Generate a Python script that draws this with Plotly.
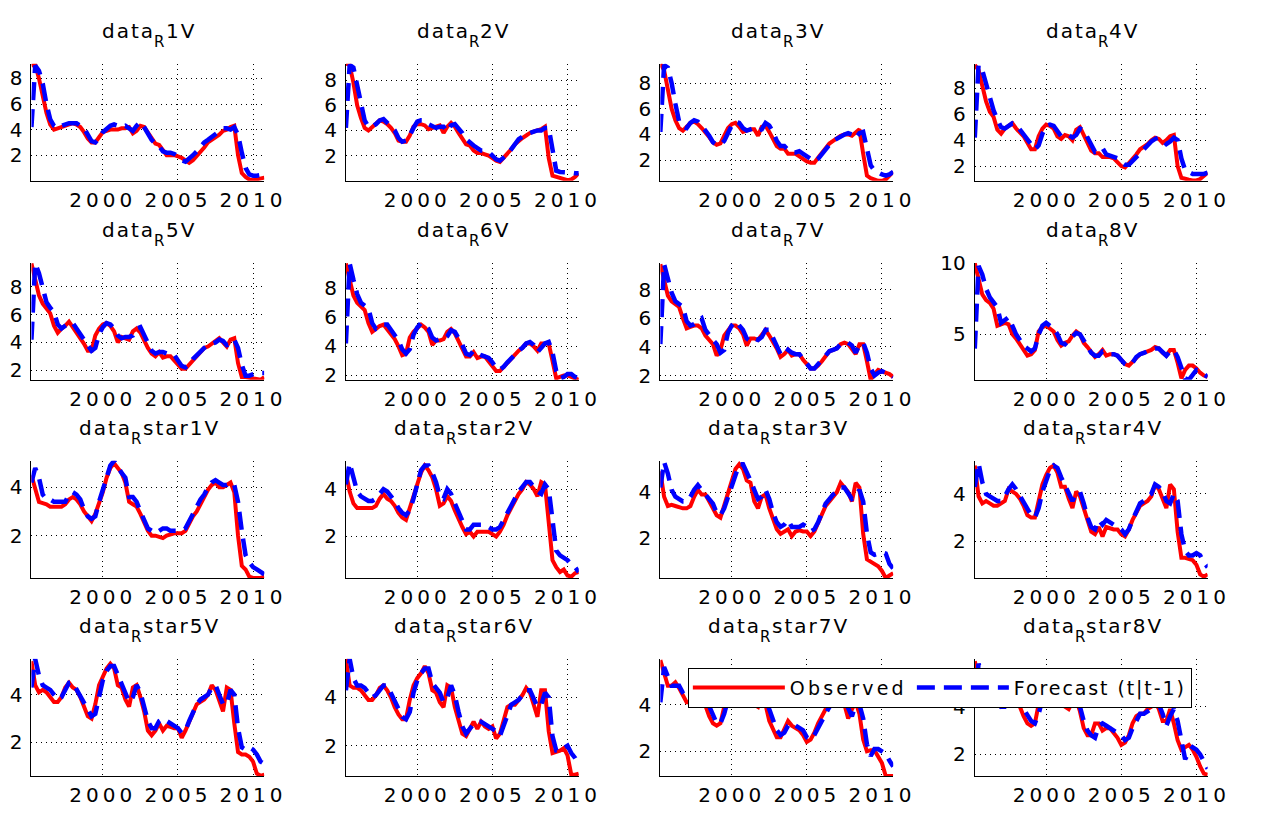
import plotly.graph_objects as go

# quarterly sample 1995Q2 .. 2010Q4 (decimal years)
quarters = [1995.25 + 0.25 * i for i in range(63)]
year_ticks = [2000, 2005, 2010]

titles = ["1V", "2V", "3V", "4V", "5V", "6V", "7V", "8V",
          "star1V", "star2V", "star3V", "star4V", "star5V", "star6V", "star7V", "star8V"]

obs_R1 = [9.0, 9.1, 8.0, 6.6, 5.3, 4.4, 4.0, 4.1, 4.2, 4.3,
          4.4, 4.5, 4.4, 4.2, 3.8, 3.3, 3.0, 3.0, 3.4, 3.8,
          3.9, 4.0, 4.0, 4.0, 4.1, 4.1, 4.2, 3.7, 3.9, 4.3,
          4.2, 3.8, 3.3, 2.9, 2.8, 2.4, 2.0, 2.0, 2.0, 1.9,
          1.8, 1.6, 1.4, 1.6, 1.9, 2.2, 2.6, 3.0, 3.2, 3.4,
          3.6, 3.9, 4.0, 4.2, 4.3, 2.0, 0.6, 0.3, 0.1, 0.05,
          0.1, 0.15, 0.25]
fc_R1 = [4.2, 9.0, 8.6, 7.6, 6.0, 4.8, 4.3, 4.1, 4.3, 4.4,
         4.5, 4.5, 4.5, 4.3, 4.1, 3.6, 3.1, 3.0, 3.3, 3.8,
         4.1, 4.3, 4.4, 4.3, 4.2, 4.3, 4.1, 3.9, 4.3, 4.6,
         4.2, 3.7, 3.2, 2.9, 2.7, 2.3, 2.2, 2.2, 2.1, 1.9,
         1.6, 1.5, 1.7, 2.0, 2.3, 2.7, 3.0, 3.2, 3.4, 3.6,
         3.8, 4.1, 4.1, 4.0, 4.2, 3.6, 2.2, 1.0, 0.5, 0.4,
         0.4, 0.45, 0.5]

obs_R2 = [9.3, 9.2, 7.8, 6.0, 5.0, 4.2, 4.0, 4.3, 4.5, 4.8,
          4.7, 4.5, 4.2, 3.8, 3.2, 3.1, 3.1, 3.6, 4.3, 4.5,
          4.5, 4.4, 4.1, 4.2, 4.3, 4.4, 3.8, 4.3, 4.6, 4.3,
          3.8, 3.3, 2.9, 2.8, 2.4, 2.2, 2.2, 2.1, 2.0, 1.8,
          1.6, 1.5, 1.8, 2.1, 2.5, 2.9, 3.2, 3.4, 3.6, 3.8,
          3.9, 4.0, 4.1, 4.3, 1.8, 0.4, 0.3, 0.2, 0.1, 0.05,
          0.1, 0.3, 0.6]
fc_R2 = [4.2, 9.2, 9.0, 7.6, 5.9, 4.8, 4.3, 4.3, 4.5, 4.8,
         4.9, 4.6, 4.3, 4.0, 3.4, 3.1, 3.2, 3.6, 4.2, 4.7,
         4.8, 4.8, 4.5, 4.3, 4.2, 4.3, 4.3, 3.9, 4.4, 4.5,
         4.2, 3.8, 3.3, 3.0, 2.8, 2.6, 2.4, 2.4, 2.3, 2.0,
         1.7, 1.6, 1.8, 2.1, 2.5, 2.9, 3.3, 3.5, 3.7, 3.8,
         3.9, 4.0, 4.0, 4.2, 4.2, 2.2, 0.8, 0.7, 0.7, 0.7,
         0.65, 0.6, 0.6]

obs_R3 = [9.5, 9.0, 7.5, 6.0, 5.1, 4.5, 4.3, 4.6, 4.9, 5.0,
          4.8, 4.5, 4.2, 3.8, 3.4, 3.2, 3.3, 3.9, 4.5, 4.8,
          4.9, 4.6, 4.2, 4.3, 4.4, 4.4, 3.9, 4.6, 4.7, 4.2,
          3.6, 3.1, 2.9, 2.9, 2.5, 2.5, 2.5, 2.3, 2.1, 1.9,
          1.8, 1.8, 2.2, 2.6, 3.0, 3.3, 3.5, 3.7, 3.9, 4.0,
          4.0, 3.9, 4.2, 4.4, 2.5, 0.8, 0.6, 0.5, 0.4, 0.4,
          0.5, 0.8, 1.1]
fc_R3 = [4.2, 9.4, 9.2, 8.0, 6.4, 5.0, 4.6, 4.5, 4.9, 5.1,
         5.0, 4.7, 4.3, 3.9, 3.4, 3.2, 3.2, 3.5, 4.2, 4.7,
         5.0, 4.9, 4.5, 4.3, 4.4, 4.5, 4.3, 4.4, 4.9, 4.7,
         4.2, 3.5, 3.1, 3.1, 2.8, 2.6, 2.6, 2.7, 2.5, 2.3,
         2.0, 1.9, 2.1, 2.5, 2.9, 3.2, 3.5, 3.7, 3.9, 4.0,
         4.1, 4.0, 3.7, 4.1, 4.2, 3.0, 1.6, 1.2, 1.0, 0.9,
         0.8, 0.9, 1.1]

obs_R4 = [9.8, 9.4, 8.2, 7.0, 6.2, 5.8, 4.8, 4.5, 4.9, 5.1,
          5.3, 4.9, 4.6, 4.3, 3.8, 3.3, 3.3, 4.3, 4.9, 5.2,
          5.1, 4.9, 4.3, 4.1, 4.4, 4.3, 4.0, 4.8, 5.0, 4.4,
          3.8, 3.2, 3.0, 3.0, 2.7, 2.7, 2.7, 2.6, 2.3, 2.0,
          1.9, 2.2, 2.6, 2.9, 3.3, 3.5, 3.7, 4.0, 4.2, 4.1,
          3.8, 4.0, 4.3, 4.4, 2.0, 1.1, 1.0, 0.95, 0.9, 0.9,
          1.0, 1.3, 1.5]
fc_R4 = [4.2, 9.8, 9.4, 8.4, 7.2, 6.3, 5.6, 5.0, 4.9, 5.1,
         5.3, 5.2, 4.8, 4.5, 4.1, 3.6, 3.3, 3.6, 4.5, 5.1,
         5.2, 5.1, 4.7, 4.3, 4.4, 4.4, 4.2, 4.4, 4.9, 4.8,
         4.2, 3.6, 3.1, 3.2, 3.4, 2.9, 2.8, 2.7, 2.6, 2.3,
         2.1, 2.1, 2.4, 2.8, 3.1, 3.4, 3.6, 3.9, 4.1, 4.2,
         4.0, 3.7, 3.9, 4.2, 4.0, 2.6, 1.7, 1.5, 1.4, 1.4,
         1.4, 1.4, 1.5]

obs_R5 = [9.7, 8.5, 7.4, 6.8, 6.5, 6.1, 5.2, 4.7, 5.0, 5.2,
          5.5, 5.1, 4.8, 4.4, 3.9, 3.4, 3.4, 4.5, 5.0, 5.3,
          5.4, 5.2, 4.8, 4.0, 4.4, 4.3, 4.2, 4.8, 5.0, 4.7,
          4.1, 3.6, 3.2, 3.0, 3.3, 2.9, 3.0, 3.0, 2.7, 2.4,
          2.1, 2.1, 2.4, 2.7, 3.0, 3.3, 3.6, 3.7, 3.9, 4.1,
          4.3, 4.0, 3.7, 4.2, 4.3, 2.5, 1.5, 1.5, 1.45, 1.4,
          1.35, 1.3, 1.5]
fc_R5 = [4.2, 9.7, 9.0, 7.8, 6.9, 6.5, 6.2, 5.3, 5.0, 5.2,
         5.4, 5.4, 5.0, 4.6, 4.2, 3.7, 3.4, 3.6, 4.6, 5.1,
         5.4, 5.3, 5.0, 4.5, 4.3, 4.4, 4.4, 4.5, 5.0, 5.1,
         4.5, 4.0, 3.4, 3.2, 3.3, 3.3, 3.2, 3.2, 3.1, 2.7,
         2.3, 2.2, 2.4, 2.8, 3.1, 3.4, 3.6, 3.8, 3.9, 4.0,
         4.2, 4.1, 3.8, 3.9, 4.2, 3.6, 2.4, 1.6, 1.6, 1.7,
         1.8, 1.8, 1.8]

obs_R6 = [9.7, 8.5, 7.5, 7.0, 6.7, 6.5, 5.6, 5.0, 5.2, 5.4,
          5.5, 5.2, 4.8, 4.5, 4.0, 3.4, 3.5, 4.6, 5.0, 5.3,
          5.5, 5.3, 5.0, 4.1, 4.4, 4.4, 4.5, 5.0, 5.2, 4.9,
          4.4, 3.8, 3.3, 3.3, 3.6, 3.2, 3.3, 3.3, 3.0, 2.7,
          2.3, 2.3, 2.6, 2.9, 3.2, 3.5, 3.7, 3.9, 4.2, 4.2,
          4.0, 3.7, 4.2, 4.2, 4.2, 3.0, 1.8, 1.9, 2.0, 2.0,
          1.9, 1.8, 1.7]
fc_R6 = [4.2, 9.7, 8.6, 7.6, 7.0, 6.8, 6.6, 5.6, 5.2, 5.3,
         5.5, 5.5, 5.1, 4.8, 4.4, 3.8, 3.5, 3.8, 4.8, 5.3,
         5.6, 5.4, 5.2, 4.6, 4.4, 4.5, 4.5, 4.7, 5.1, 5.0,
         4.6, 4.1, 3.5, 3.4, 3.7, 3.5, 3.4, 3.3, 3.2, 2.9,
         2.5, 2.4, 2.6, 2.9, 3.2, 3.5, 3.7, 3.9, 4.2, 4.3,
         4.1, 3.6, 3.9, 4.2, 4.3, 3.6, 2.3, 1.8, 1.9, 2.1,
         2.1, 1.9, 1.8]

obs_R7 = [9.8, 8.6, 7.6, 7.2, 7.0, 6.8, 6.0, 5.3, 5.4, 5.5,
          5.5, 5.3, 4.8, 4.5, 4.2, 3.4, 3.8, 4.8, 5.2, 5.5,
          5.5, 5.3, 4.9, 4.1, 4.6, 4.6, 4.5, 4.9, 5.2, 4.8,
          4.4, 3.9, 3.3, 3.5, 3.8, 3.4, 3.5, 3.5, 3.1, 2.8,
          2.5, 2.5, 2.7, 3.0, 3.4, 3.7, 3.8, 3.9, 4.2, 4.3,
          4.2, 3.9, 3.5, 4.2, 4.2, 3.0, 1.7, 2.1, 2.4, 2.3,
          2.2, 2.1, 1.9]
fc_R7 = [4.2, 9.8, 8.8, 7.8, 7.2, 7.0, 6.8, 5.8, 5.5, 5.6,
         5.8, 6.0, 5.2, 4.8, 4.5, 4.2, 3.6, 3.8, 5.0, 5.5,
         5.8, 5.5, 5.2, 4.6, 4.4, 4.6, 4.5, 4.7, 5.2, 5.2,
         4.6, 4.1, 3.5, 3.4, 3.8, 3.6, 3.5, 3.5, 3.2, 2.8,
         2.5, 2.5, 2.8, 3.1, 3.4, 3.7, 3.8, 3.9, 4.2, 4.3,
         4.3, 4.1, 3.6, 4.1, 4.3, 3.6, 2.5, 2.0, 2.2, 2.3,
         2.2, 2.1, 1.9]

obs_R8 = [10.0, 9.0, 7.8, 7.4, 7.2, 6.8, 5.6, 5.7, 5.8, 5.7,
          5.0, 4.7, 4.3, 3.9, 3.5, 3.6, 3.9, 5.2, 5.5, 5.6,
          5.4, 5.2, 4.6, 4.2, 4.4, 4.5, 4.9, 5.2, 5.0, 4.4,
          4.1, 3.8, 3.4, 3.6, 3.9, 3.5, 3.6, 3.6, 3.5, 3.2,
          2.9, 2.8, 3.1, 3.4, 3.6, 3.7, 3.8, 3.9, 4.1, 4.0,
          3.7, 3.5, 3.9, 3.9, 3.0, 1.9, 2.5, 2.8, 2.8, 2.6,
          2.3, 2.1, 2.0]
fc_R8 = [4.0, 9.8, 9.2, 8.2, 7.6, 7.3, 6.9, 5.8, 6.0, 6.2,
         5.6, 5.0, 4.6, 4.2, 4.0, 3.8, 4.0, 5.0, 5.6, 5.8,
         5.6, 5.4, 5.0, 4.4, 4.3, 4.6, 4.8, 5.1, 5.0, 4.6,
         4.2, 3.7, 3.5, 3.5, 3.8, 3.7, 3.6, 3.6, 3.5, 3.2,
         2.9, 2.8, 3.0, 3.4, 3.6, 3.7, 3.8, 3.9, 4.0, 4.0,
         3.8, 3.5, 3.8, 3.9, 3.4, 2.6, 1.9, 1.8, 2.2, 2.5,
         2.4, 2.2, 2.0]

obs_S1 = [4.5, 4.0, 3.4, 3.35, 3.3, 3.2, 3.2, 3.2, 3.2, 3.3,
          3.5, 3.6, 3.5, 3.3, 3.0, 2.8, 2.6, 2.9, 3.3, 3.8,
          4.4, 4.8, 5.0, 4.8, 4.6, 4.2, 3.4, 3.3, 3.2, 2.9,
          2.5, 2.2, 2.0, 2.0, 1.95, 1.9, 2.0, 2.05, 2.1, 2.1,
          2.1, 2.2, 2.5, 2.8, 3.0, 3.3, 3.6, 3.9, 4.1, 4.2,
          4.0, 4.0, 4.1, 4.2, 3.8, 2.0, 0.75, 0.6, 0.3, 0.25,
          0.25, 0.25, 0.3]
fc_S1 = [4.2, 4.8, 4.4, 3.7, 3.5, 3.5, 3.4, 3.4, 3.4, 3.4,
         3.7, 3.8, 3.7, 3.5, 3.1, 2.8, 2.7, 2.8, 3.4, 3.9,
         4.5, 4.9, 5.1, 4.8, 4.6, 4.4, 3.6, 3.6, 3.4, 3.0,
         2.6, 2.3, 2.2, 2.1, 2.2, 2.3, 2.3, 2.2, 2.2, 2.2,
         2.2, 2.3, 2.6, 2.9, 3.2, 3.5, 3.7, 4.0, 4.2, 4.3,
         4.2, 4.1, 4.1, 4.2, 4.1, 3.4, 2.2, 1.2, 0.9, 0.7,
         0.6, 0.5, 0.4]

obs_S2 = [4.7, 3.9, 3.4, 3.2, 3.2, 3.2, 3.2, 3.2, 3.3, 3.6,
          3.8, 3.6, 3.5, 3.3, 3.0, 2.8, 2.7, 3.2, 3.8, 4.3,
          4.7, 5.0, 4.8, 4.5, 4.0, 3.3, 3.4, 3.7, 3.5, 3.1,
          2.7, 2.4, 2.1, 2.2, 2.0, 2.2, 2.2, 2.2, 2.2, 2.1,
          2.0, 2.2, 2.5, 2.9, 3.2, 3.5, 3.8, 4.0, 4.3, 4.2,
          4.0, 3.7, 4.3, 4.2, 2.5, 1.0, 0.7, 0.5, 0.6, 0.35,
          0.3, 0.45, 0.5]
fc_S2 = [4.2, 5.1, 4.5, 3.9, 3.7, 3.6, 3.5, 3.5, 3.6, 3.8,
         4.0, 3.9, 3.7, 3.5, 3.2, 3.0, 2.9, 3.1, 3.6, 4.3,
         4.8, 5.0, 5.0, 4.7, 4.3, 3.7, 3.6, 4.0, 3.8, 3.4,
         3.0, 2.6, 2.3, 2.3, 2.5, 2.5, 2.5, 2.4, 2.4, 2.3,
         2.3, 2.4, 2.7, 3.0, 3.4, 3.6, 3.9, 4.1, 4.3, 4.3,
         4.1, 3.9, 3.8, 4.2, 4.0, 2.5, 1.4, 1.2, 1.1, 1.0,
         0.8, 0.7, 0.5]

obs_S3 = [4.9, 3.8, 3.4, 3.45, 3.4, 3.35, 3.3, 3.3, 3.4, 3.8,
          4.1, 3.9, 3.9, 3.6, 3.3, 3.0, 2.9, 3.4, 3.9, 4.5,
          5.0, 5.2, 5.0, 4.5, 4.4, 3.6, 3.3, 3.8, 3.9, 3.3,
          2.8, 2.4, 2.2, 2.3, 2.4, 2.1, 2.3, 2.35, 2.3, 2.3,
          2.1, 2.3, 2.7, 3.0, 3.4, 3.6, 3.8, 4.0, 4.4, 4.2,
          4.0, 3.6, 4.4, 4.2, 2.2, 1.1, 1.0, 0.9, 0.8, 0.6,
          0.3, 0.4, 0.5]
fc_S3 = [4.2, 5.3, 4.8, 4.1, 3.8, 3.7, 3.6, 3.6, 3.8, 4.1,
         4.3, 4.1, 3.9, 3.7, 3.5, 3.1, 3.0, 3.3, 3.8, 4.3,
         4.8, 5.2, 5.2, 4.9, 4.5, 4.1, 3.7, 3.8, 4.1, 3.7,
         3.1, 2.7, 2.5, 2.6, 2.8, 2.5, 2.5, 2.5, 2.6, 2.5,
         2.3, 2.4, 2.7, 3.1, 3.5, 3.7, 3.9, 4.0, 4.2, 4.2,
         3.9, 3.7, 3.8, 4.1, 3.6, 2.2, 1.4, 1.3, 1.35, 1.4,
         1.35, 0.9, 0.7]

obs_S4 = [5.2, 3.9, 3.6, 3.7, 3.6, 3.5, 3.5, 3.6, 3.7, 4.2,
          4.1, 4.0, 3.8, 3.5, 3.1, 3.0, 3.0, 3.8, 4.4, 4.8,
          5.1, 5.2, 4.9, 4.3, 4.3, 3.8, 3.4, 4.1, 3.9, 3.4,
          2.9, 2.4, 2.3, 2.6, 2.2, 2.6, 2.55, 2.5, 2.5, 2.3,
          2.2, 2.5, 2.9, 3.2, 3.5, 3.6, 3.7, 3.9, 4.4, 4.2,
          3.8, 3.4, 4.4, 4.2, 2.4, 1.3, 1.3, 1.25, 1.2, 1.0,
          0.6, 0.5, 0.6]
fc_S4 = [4.3, 5.3, 4.5, 4.0, 3.9, 3.8, 3.7, 3.7, 3.9, 4.2,
         4.4, 4.2, 3.9, 3.6, 3.3, 3.1, 3.0, 3.4, 4.1, 4.6,
         5.0, 5.2, 5.1, 4.7, 4.4, 4.1, 3.7, 4.0, 4.1, 3.6,
         3.0, 2.6, 2.5, 2.9, 2.7, 2.9, 2.8, 2.7, 2.6, 2.5,
         2.3, 2.5, 2.9, 3.3, 3.6, 3.7, 3.9, 4.0, 4.4, 4.3,
         4.1, 3.7, 3.6, 4.0, 3.7, 2.3, 1.6, 1.4, 1.4, 1.5,
         1.4, 1.1, 0.9]

obs_S5 = [5.4, 4.4, 4.1, 4.2, 4.1, 3.9, 3.7, 3.7, 3.9, 4.3,
          4.5, 4.3, 4.2, 3.9, 3.5, 3.1, 3.0, 3.6, 4.4, 4.8,
          5.1, 5.3, 5.1, 4.4, 4.3, 3.8, 3.5, 4.3, 4.4, 3.9,
          3.3, 2.5, 2.3, 2.5, 2.8, 2.5, 2.7, 2.65, 2.6, 2.6,
          2.2, 2.5, 2.9, 3.3, 3.6, 3.7, 3.8, 4.0, 4.4, 4.2,
          3.7, 3.3, 4.3, 4.2, 2.8, 1.6, 1.5, 1.5, 1.4, 1.2,
          0.7, 0.6, 0.65]
fc_S5 = [4.3, 5.5, 4.8, 4.4, 4.3, 4.2, 4.0, 3.8, 3.9, 4.2,
         4.5, 4.5, 4.2, 4.0, 3.7, 3.3, 3.1, 3.2, 4.0, 4.6,
         5.0, 5.2, 5.2, 4.8, 4.5, 4.1, 3.7, 3.9, 4.4, 4.1,
         3.5, 2.9, 2.6, 2.6, 2.9, 3.0, 2.9, 2.8, 2.7, 2.6,
         2.4, 2.5, 2.9, 3.3, 3.6, 3.8, 3.9, 4.0, 4.3, 4.4,
         4.0, 3.6, 3.6, 4.2, 4.0, 2.6, 1.8, 1.7, 1.8, 1.7,
         1.5, 1.2, 1.1]

obs_S6 = [5.6, 4.5, 4.4, 4.4, 4.3, 4.1, 3.9, 3.9, 4.1, 4.4,
          4.5, 4.3, 4.0, 3.6, 3.3, 3.1, 3.1, 3.9, 4.5, 4.8,
          5.0, 5.3, 5.0, 4.3, 4.2, 3.8, 3.6, 4.5, 4.4, 3.6,
          3.0, 2.5, 2.4, 2.7, 3.0, 2.7, 3.0, 2.8, 2.7, 2.8,
          2.3, 2.5, 3.0, 3.6, 3.7, 3.7, 3.9, 4.1, 4.4, 4.2,
          3.7, 3.2, 4.3, 4.3, 2.6, 1.7, 1.75, 1.8, 1.9, 1.6,
          0.8, 0.8, 0.85]
fc_S6 = [4.3, 5.6, 4.8, 4.5, 4.5, 4.4, 4.2, 4.0, 4.1, 4.3,
         4.5, 4.5, 4.2, 3.8, 3.5, 3.2, 3.1, 3.4, 4.2, 4.7,
         5.0, 5.2, 5.2, 4.6, 4.4, 4.2, 3.8, 4.0, 4.5, 4.1,
         3.4, 2.8, 2.5, 2.7, 2.9, 3.0, 3.0, 2.9, 2.8, 2.7,
         2.6, 2.4, 2.8, 3.3, 3.7, 3.8, 3.9, 4.1, 4.3, 4.3,
         4.0, 3.6, 3.7, 4.2, 4.0, 2.4, 1.8, 1.8, 1.9, 2.0,
         1.7, 1.5, 1.2]

obs_S7 = [5.9, 5.4, 4.8, 4.8, 4.95, 4.7, 4.4, 4.1, 4.1, 4.3,
          4.5, 4.4, 3.9, 3.5, 3.2, 3.1, 3.2, 4.0, 4.6, 5.0,
          5.3, 5.4, 5.1, 4.5, 4.3, 4.0, 3.9, 4.4, 4.0, 3.3,
          2.9, 2.6, 2.6, 3.0, 3.3, 3.1, 3.0, 2.9, 2.7, 2.4,
          2.5, 2.8, 3.2, 3.5, 3.8, 3.9, 4.0, 4.2, 4.3, 4.0,
          3.4, 3.8, 4.1, 3.6, 2.5, 2.0, 2.05, 2.05, 1.8, 1.5,
          0.95, 0.95, 0.95]
fc_S7 = [4.1, 5.6, 5.2, 4.8, 4.8, 4.8, 4.5, 4.3, 4.2, 4.2,
         4.4, 4.5, 4.3, 3.9, 3.5, 3.2, 3.2, 3.6, 4.2, 4.7,
         5.0, 5.3, 5.3, 4.8, 4.4, 4.2, 4.0, 4.1, 4.3, 3.8,
         3.3, 2.9, 2.7, 2.8, 3.1, 3.2, 3.1, 3.0, 2.9, 2.6,
         2.5, 2.7, 3.0, 3.4, 3.7, 3.9, 4.0, 4.1, 4.2, 4.2,
         3.8, 3.5, 4.0, 4.0, 3.4, 2.3, 1.8, 2.1, 2.1, 2.0,
         1.9, 1.6, 1.35]

obs_S8 = [5.9, 5.2, 4.6, 4.6, 4.7, 4.5, 4.2, 4.0, 4.1, 4.3,
          4.5, 4.3, 4.0, 3.6, 3.3, 3.2, 3.3, 4.1, 4.6, 5.0,
          5.2, 5.3, 5.0, 4.4, 4.0, 3.9, 4.2, 4.3, 3.8, 3.1,
          2.8, 2.8, 3.3, 3.3, 3.0, 3.1, 3.1, 2.9, 2.7, 2.4,
          2.5, 2.8, 3.3, 3.6, 3.7, 3.7, 3.9, 4.0, 4.2, 3.9,
          3.4, 3.4, 3.9, 3.3, 2.6, 2.2, 2.3, 2.4, 2.2, 1.9,
          1.5, 1.2, 1.15]
fc_S8 = [4.0, 5.8, 5.3, 4.8, 4.6, 4.6, 4.4, 4.0, 4.0, 4.2,
         4.4, 4.5, 4.3, 3.9, 3.6, 3.4, 3.3, 3.7, 4.3, 4.8,
         5.1, 5.2, 5.2, 4.7, 4.3, 4.0, 4.0, 4.1, 4.0, 3.4,
         3.0, 2.8, 2.7, 3.2, 3.3, 3.2, 3.1, 3.0, 2.9, 2.8,
         2.6, 2.7, 3.1, 3.4, 3.7, 3.7, 3.8, 3.9, 4.1, 4.1,
         3.7, 3.2, 3.6, 3.9, 3.4, 2.7, 1.8, 2.1, 2.3, 2.2,
         2.0, 1.7, 1.4]

observed = [obs_R1, obs_R2, obs_R3, obs_R4, obs_R5, obs_R6, obs_R7, obs_R8,
            obs_S1, obs_S2, obs_S3, obs_S4, obs_S5, obs_S6, obs_S7, obs_S8]
forecast = [fc_R1, fc_R2, fc_R3, fc_R4, fc_R5, fc_R6, fc_R7, fc_R8,
            fc_S1, fc_S2, fc_S3, fc_S4, fc_S5, fc_S6, fc_S7, fc_S8]

# y-axis limits (tight) and ticks per panel
y_limits = [[0.0, 9.15], [0.0, 9.3], [0.4, 9.5], [0.87, 9.9],
            [1.3, 9.75], [1.7, 9.75], [1.7, 9.9], [1.8, 10.03],
            [0.25, 5.1], [0.25, 5.2], [0.3, 5.35], [0.45, 5.4],
            [0.6, 5.5], [0.75, 5.6], [0.95, 5.95], [1.1, 6.0]]
y_ticks = [[2, 4, 6, 8]] * 7 + [[5, 10]] + [[2, 4]] * 8

# ---------------- styling / layout ----------------
W, H = 1268, 822
FONT = "DejaVu Sans"
FS = 20
col_left = [32, 352, 672, 992]
row_top = [53, 257, 460, 663]
PW, PH = 237, 120

# approximate DejaVu Sans advance widths (em) used to place the title pieces
EM = {"d": 0.635, "a": 0.613, "t": 0.392, "s": 0.521, "r": 0.411,
      "V": 0.684, "R": 0.695}
for _d in "0123456789":
    EM[_d] = 0.636


def text_w(s, size, ls):
    return sum(EM.get(ch, 0.6) * size + ls for ch in s)


def spaced(t, ls, size=FS):
    return f'<span style="font-size:{size}px;letter-spacing:{ls}px">{t}</span>'


TS, TLS = 20, 2.0      # title font size / letter spacing
RS, RLS = 15, 1.0      # subscript R

fig = go.Figure()
annotations = []
for k in range(16):
    r, c = divmod(k, 4)
    sfx = "" if k == 0 else str(k + 1)
    fig.add_trace(go.Scatter(
        x=quarters, y=observed[k], mode="lines", xaxis="x" + sfx, yaxis="y" + sfx,
        line=dict(color="#FF0000", width=4), name=spaced("Observed", 3.2, 19),
        legendgroup="obs", showlegend=(k == 14), hoverinfo="skip"))
    fig.add_trace(go.Scatter(
        x=quarters, y=forecast[k], mode="lines", xaxis="x" + sfx, yaxis="y" + sfx,
        line=dict(color="#0000FF", width=4.5, dash="18px,9px"),
        name=spaced("Forecast (t|t-1)", 1.9, 19),
        legendgroup="fc", showlegend=(k == 14), hoverinfo="skip"))

    l = col_left[c]
    t = row_top[r]
    xdom = [l / W, (l + PW) / W]
    ydom = [1 - (t + PH) / H, 1 - t / H]
    common = dict(showgrid=True, gridcolor="#000000", gridwidth=1, griddash="1px,4px",
                  zeroline=False, showline=True, linecolor="#000000", linewidth=1,
                  ticks="", tickfont=dict(family=FONT, size=FS, color="#000000"),
                  mirror=False)
    fig.layout["xaxis" + sfx] = dict(
        domain=xdom, range=[1995.25, 2010.75], anchor="y" + sfx,
        tickmode="array", tickvals=year_ticks,
        ticktext=[spaced(str(v), 4.0) for v in year_ticks],
        ticklabelstandoff=1, **common)
    fig.layout["yaxis" + sfx] = dict(
        domain=ydom, range=y_limits[k], anchor="x" + sfx,
        tickmode="array", tickvals=y_ticks[k],
        ticklabelstandoff=4, **common)

    # title: "data" + subscript "R" + suffix, as three adjacent texts
    w1 = text_w("data", TS, TLS)
    w2 = text_w("R", RS, RLS)
    w3 = text_w(titles[k], TS, TLS)
    x0 = l + PW / 2 - (w1 + w2 + w3) / 2
    ytop = 1 - t / H
    for txt, xs, size, ls, ysh in [("data", x0, TS, TLS, 20),
                                   ("R", x0 + w1, RS, RLS, 12),
                                   (titles[k], x0 + w1 + w2, TS, TLS, 20)]:
        annotations.append(dict(
            text=spaced(txt, ls, size), x=xs / W, y=ytop, xref="paper", yref="paper",
            xanchor="left", yanchor="bottom", yshift=ysh, showarrow=False,
            borderpad=0, font=dict(family=FONT, size=size, color="#000000")))

fig.update_layout(
    width=W, height=H, autosize=False,
    margin=dict(l=0, r=0, t=0, b=0),
    paper_bgcolor="white", plot_bgcolor="white",
    annotations=annotations,
    showlegend=True,
    legend=dict(orientation="h", x=700 / W, y=1 - 672 / H, xanchor="left", yanchor="top",
                bgcolor="white", bordercolor="#000000", borderwidth=1,
                font=dict(family=FONT, size=19, color="#000000"),
                itemwidth=92, tracegroupgap=0),
)

fig.write_html("out.html")
